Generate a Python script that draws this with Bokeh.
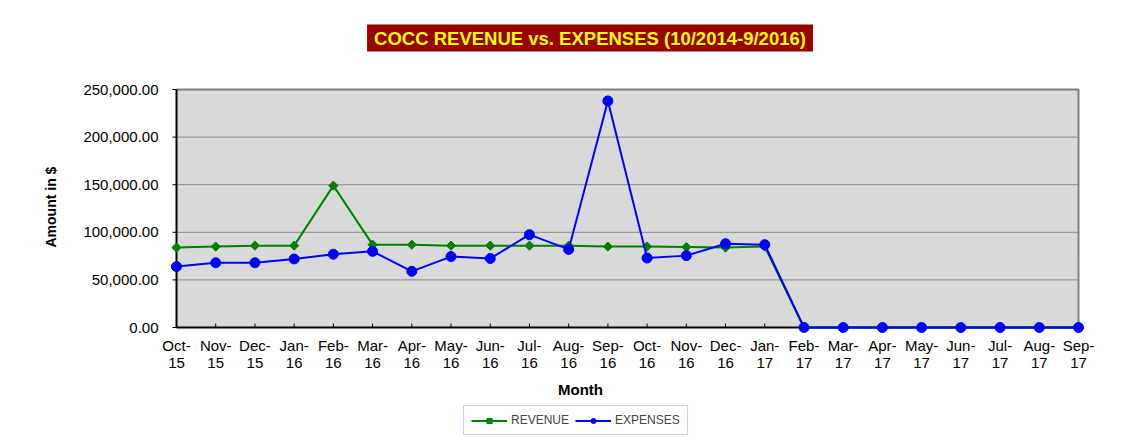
import math
from bokeh.plotting import figure
from bokeh.models import (Range1d, FixedTicker, NumeralTickFormatter, Legend, LegendItem,
                          Title, Label)
from bokeh.core.properties import value
from bokeh.embed import file_html
from bokeh.resources import INLINE

months = ["Oct-15", "Nov-15", "Dec-15", "Jan-16", "Feb-16", "Mar-16", "Apr-16", "May-16",
          "Jun-16", "Jul-16", "Aug-16", "Sep-16", "Oct-16", "Nov-16", "Dec-16", "Jan-17",
          "Feb-17", "Mar-17", "Apr-17", "May-17", "Jun-17", "Jul-17", "Aug-17", "Sep-17"]
revenue = [84000, 85000, 86000, 86000, 149000, 87000, 87000, 86000, 86000, 86000, 86000, 85000,
           85000, 84500, 84000, 85000, 0, 0, 0, 0, 0, 0, 0, 0]
expenses = [64000, 68000, 68000, 72000, 77000, 80000, 59000, 74500, 72500, 97500, 82000, 238000,
            73000, 75500, 88000, 87000, 0, 0, 0, 0, 0, 0, 0, 0]
y_ticks = [0, 50000, 100000, 150000, 200000, 250000]
title_text = "COCC REVENUE vs. EXPENSES (10/2014-9/2016)"
x_title = "Month"
y_title = "Amount in $"

FONT = "Liberation Sans"
x = list(range(len(months)))
x_max = len(months) - 1
y_max = y_ticks[-1]
tick_labels = [m.replace("-", "-\n") for m in months]

# canvas / plot-area geometry in pixels
W, H = 1132, 437
FRAME_L = 160                      # frame spans x 160..W and the full height
AREA_L, AREA_R, AREA_T, AREA_B = 176, 1078, 89, 327
ux = x_max / (AREA_R - AREA_L)     # data units per pixel
uy = y_max / (AREA_B - AREA_T)


def px_x(px):
    return (px - AREA_L) * ux


def px_y(py):
    return (AREA_B - py) * uy


p = figure(width=W, height=H, output_backend="svg", toolbar_location=None,
           x_range=Range1d(px_x(FRAME_L), px_x(W)), y_range=Range1d(px_y(H), px_y(0)),
           x_axis_location=None,
           min_border_left=FRAME_L, min_border_right=0, min_border_top=0, min_border_bottom=0,
           background_fill_color="white", border_fill_color="white")
p.outline_line_color = None
p.grid.grid_line_color = None

# plot area background, grid and borders
p.quad(left=0, right=x_max, bottom=0, top=y_max, fill_color="#d9d9d9", line_color=None)
p.segment(x0=[0] * (len(y_ticks) - 2), x1=[x_max] * (len(y_ticks) - 2),
          y0=y_ticks[1:-1], y1=y_ticks[1:-1], line_color="#878787", line_width=1)
p.segment(x0=[0, x_max], x1=[x_max, x_max], y0=[y_max, 0], y1=[y_max, y_max],
          line_color="#808080", line_width=2)
# x ticks (inside) and y ticks (outside)
p.segment(x0=x, x1=x, y0=[0] * len(x), y1=[4 * uy] * len(x), line_color="black", line_width=1)
p.segment(x0=[-4 * ux] * len(y_ticks), x1=[0] * len(y_ticks), y0=y_ticks, y1=y_ticks,
          line_color="black", line_width=1)
# axis lines
p.segment(x0=[0, 0], x1=[0, x_max], y0=[0, 0], y1=[y_max, 0], line_color="black", line_width=2)

# x tick labels (category names, two lines)
p.text(x=x, y=[-9 * uy] * len(x), text=tick_labels, text_align="center", text_baseline="top",
       text_font=value(FONT), text_font_size="15px", text_color="black", text_line_height=1.0)

# y axis (real axis, labels only)
p.yaxis.ticker = FixedTicker(ticks=y_ticks)
p.yaxis.formatter = NumeralTickFormatter(format="0,0.00")
p.yaxis.axis_line_color = None
p.yaxis.major_tick_line_color = None
p.yaxis.minor_tick_line_color = None
p.yaxis.major_tick_out = 0
p.yaxis.major_tick_in = 0
p.yaxis.major_label_text_font = FONT
p.yaxis.major_label_text_font_size = "15px"
p.yaxis.major_label_text_color = "black"
p.yaxis.major_label_standoff = 2

ytitle = Title(text=y_title, align="left", offset=190, standoff=43,
               text_font=FONT, text_font_size="14px", text_font_style="bold", text_color="black")
p.add_layout(ytitle, "left")

# series
r_line = p.line(x, revenue, line_color="#008000", line_width=2)
r_pts = p.scatter(x, revenue, marker="square", angle=math.pi / 4, size=6.5,
                  fill_color="#008000", line_color="#008000")
e_line = p.line(x, expenses, line_color="#0000ff", line_width=2)
e_pts = p.scatter(x, expenses, marker="circle", size=10, fill_color="#0000ff", line_color="#0000ff")

# chart title and x title
title = Label(x=px_x(589.5), y=px_y(37.5), text=title_text, text_align="center",
              text_baseline="middle", text_font=FONT, text_font_size="18.5px",
              text_font_style="bold", text_color="#ffff00",
              background_fill_color="#990000", padding=(7, 3))
p.add_layout(title)

xlab = Label(x=px_x(580), y=px_y(389), text=x_title, text_align="center", text_baseline="middle",
             text_font=FONT, text_font_size="15px", text_font_style="bold", text_color="black")
p.add_layout(xlab)

legend = Legend(items=[LegendItem(label="REVENUE", renderers=[r_line, r_pts]),
                       LegendItem(label="EXPENSES", renderers=[e_line, e_pts])],
                orientation="horizontal", location=(463 - FRAME_L, H - 435),
                label_text_font=FONT, label_text_font_size="12px",
                glyph_width=36, glyph_height=13, label_height=13, label_standoff=4, spacing=6,
                padding=7, margin=0,
                border_line_color="#9999ff", border_line_width=1,
                background_fill_color="white", background_fill_alpha=1)
p.add_layout(legend, "center")

open("out.html", "w").write(file_html(p, INLINE))
